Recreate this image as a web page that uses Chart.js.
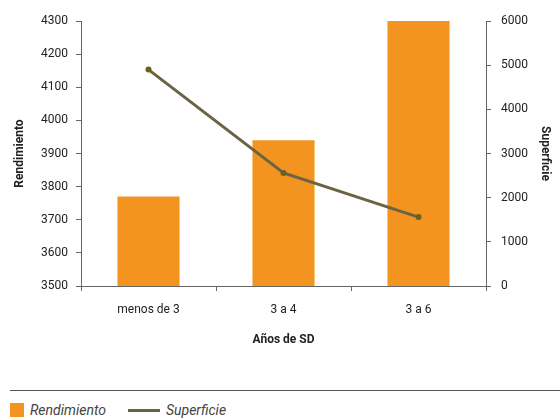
<!DOCTYPE html>
<html>
<head>
<meta charset="utf-8">
<script src="https://cdn.jsdelivr.net/npm/chart.js@4/dist/chart.umd.min.js"></script>
<style>
  body { margin: 0; background: #fff; font-family: Roboto, 'Liberation Sans', sans-serif; }
  #wrap { position: relative; width: 560px; height: 419px; }
  #c { position: absolute; left: 0; top: 0; }
  #sep { position: absolute; left: 10px; top: 390px; width: 550px; height: 0; border-top: 1px solid #555; }
  #legend { position: absolute; left: 10px; top: 402px; font-size: 14px; font-style: italic; color: #444; display: flex; align-items: center; }
  .box { display: inline-block; width: 14px; height: 14px; background: #f2941f; margin-right: 6px; }
  .ln { display: inline-block; width: 32px; height: 3px; background: #6b6444; margin: 0 6px 0 22px; }
</style>
</head>
<body>
<div id="wrap">
  <canvas id="c" width="560" height="360"></canvas>
  <div id="sep"></div>
  <div id="legend"><span class="box"></span>Rendimiento<span class="ln"></span>Superficie</div>
</div>
<script>
const categories = ['menos de 3', '3 a 4', '3 a 6'];
const rendimiento = [3770, 3940, 4300];
const superficie = [4900, 2560, 1560];
const leftTicks = [3500, 4300, 100];
const rightTicks = [0, 6000, 1000];

const font = { family: "Roboto, 'Liberation Sans', sans-serif", size: 12 };
const axisColor = '#666';
const plain = v => String(v);

document.addEventListener('DOMContentLoaded', () => {
    const ctx = document.getElementById('c');
    new Chart(ctx, {
        type: 'bar',
        data: {
            labels: categories,
            datasets: [{
                type: 'line',
                label: 'Superficie',
                data: superficie,
                yAxisID: 'y1',
                borderColor: '#6b6444',
                backgroundColor: '#6b5f1e',
                borderWidth: 3,
                pointRadius: 3,
                pointBackgroundColor: '#6b5f1e',
                pointBorderWidth: 0,
                tension: 0,
                order: 0
            }, {
                label: 'Rendimiento',
                data: rendimiento,
                yAxisID: 'y',
                backgroundColor: '#f2941f',
                categoryPercentage: 1,
                barPercentage: 0.46,
                order: 1
            }]
        },
        options: {
            responsive: false,
            animation: false,
            layout: { padding: { top: 21, left: 0, right: 0, bottom: 0 } },
            plugins: { legend: { display: false }, tooltip: { enabled: false } },
            scales: {
                x: {
                    offset: true,
                    grid: { display: true, drawOnChartArea: false, offset: true, color: axisColor, tickLength: 5 },
                    border: { color: axisColor, width: 1 },
                    ticks: { color: '#222', font: font, padding: 12 },
                    title: { display: true, text: 'Años de SD', color: '#222', font: { ...font, weight: 'bold' }, padding: { top: 0, bottom: 13 } },
                    afterFit: s => { s.height = 74; }
                },
                y: {
                    position: 'left',
                    min: leftTicks[0], max: leftTicks[1],
                    ticks: { stepSize: leftTicks[2], color: '#222', font: font, padding: 8, callback: plain },
                    grid: { drawOnChartArea: false, color: axisColor, tickLength: 5 },
                    border: { color: axisColor, width: 1 },
                    title: { display: true, text: 'Rendimiento', color: '#222', font: { ...font, weight: 'bold' }, padding: { top: 13, bottom: 0 } },
                    afterFit: s => { s.width = 81; }
                },
                y1: {
                    position: 'right',
                    min: rightTicks[0], max: rightTicks[1],
                    ticks: { stepSize: rightTicks[2], color: '#222', font: font, padding: 10, callback: plain },
                    grid: { drawOnChartArea: false, color: axisColor, tickLength: 5 },
                    border: { color: axisColor, width: 1 },
                    title: { display: true, text: 'Superficie', color: '#222', font: { ...font, weight: 'bold' }, padding: { top: 8, bottom: 0 } },
                    afterFit: s => { s.width = 74; }
                }
            }
        }
    });
});
</script>
</body>
</html>
